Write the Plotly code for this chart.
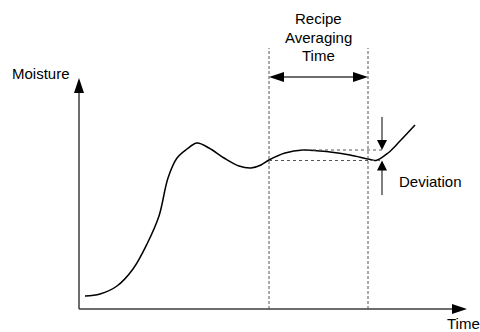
import plotly.graph_objects as go

# Moisture response over time (schematic units)
time_pts = [6, 21, 38, 54, 68, 80, 89, 98, 108, 118, 130, 145, 160, 172, 182,
            190, 206, 224, 251, 271, 289, 297, 309, 321, 336]
moisture_pts = [13, 15, 23, 40, 65, 93, 131, 151, 160, 166, 161, 151, 143, 141, 144,
                149, 156, 159, 157, 154, 150, 148.5, 156, 168, 184]

# Averaging window and deviation levels
window_start, window_end = 190, 289
window_top = 261
span_arrow_level = 232
upper_level, lower_level = 159, 148.5
upper_level_start = 222
deviation_x = 303
axis_x_end, axis_y_end = 388, 231

AXIS_COLOR = "#3c3c3c"
GUIDE_COLOR = "#555555"
FONT = dict(family="Liberation Sans, Arial, sans-serif", size=15, color="#000000")


def head(tip_x, tip_y, dx, dy, length, half_width):
    """Filled triangular arrowhead pointing along (dx, dy)."""
    bx, by = tip_x - dx * length, tip_y - dy * length
    px, py = -dy * half_width, dx * half_width
    return dict(type="path", layer="above", line=dict(width=0), fillcolor="#000000",
                path=f"M {tip_x},{tip_y} L {bx + px},{by + py} L {bx - px},{by - py} Z")


def seg(x0, y0, x1, y1, color, width, dash="solid"):
    return dict(type="line", x0=x0, y0=y0, x1=x1, y1=y1, layer="above",
                line=dict(color=color, width=width, dash=dash))


fig = go.Figure()
fig.add_trace(go.Scatter(x=time_pts, y=moisture_pts, mode="lines",
                         line=dict(color="#000000", width=1.5, shape="spline", smoothing=1.0),
                         hoverinfo="skip"))

shapes = [
    # axes
    seg(0, 0, axis_x_end - 14, 0, AXIS_COLOR, 1.5),
    seg(0, 0, 0, axis_y_end - 14, AXIS_COLOR, 1.5),
    head(axis_x_end, 0, 1, 0, 15, 5),
    head(0, axis_y_end, 0, 1, 15, 5),
    # averaging window boundaries
    seg(window_start, 0, window_start, window_top, GUIDE_COLOR, 1, "3px,2px"),
    seg(window_end, 0, window_end, window_top, GUIDE_COLOR, 1, "3px,2px"),
    # window span arrow
    seg(window_start + 14, span_arrow_level, window_end - 14, span_arrow_level, AXIS_COLOR, 1.5),
    head(window_start, span_arrow_level, -1, 0, 15, 5),
    head(window_end, span_arrow_level, 1, 0, 15, 5),
    # deviation reference levels
    seg(upper_level_start, upper_level, deviation_x, upper_level, GUIDE_COLOR, 1, "dot"),
    seg(window_start, lower_level, deviation_x, lower_level, GUIDE_COLOR, 1, "dot"),
    # deviation arrows
    seg(deviation_x, 192, deviation_x, upper_level + 9, GUIDE_COLOR, 1.5),
    head(deviation_x, upper_level, 0, -1, 10, 5),
    seg(deviation_x, 114, deviation_x, lower_level - 9, GUIDE_COLOR, 1.5),
    head(deviation_x, lower_level, 0, 1, 10, 5),
]

annotations = [
    dict(x=-7, y=236, text="Moisture", xanchor="right", yanchor="middle"),
    dict(x=366, y=-14, text="Time", xanchor="left", yanchor="middle"),
    dict(x=318, y=128, text="Deviation", xanchor="left", yanchor="middle"),
    dict(x=(window_start + window_end) / 2, y=291, text="Recipe", xanchor="center", yanchor="middle"),
    dict(x=(window_start + window_end) / 2, y=272, text="Averaging", xanchor="center", yanchor="middle"),
    dict(x=(window_start + window_end) / 2, y=254, text="Time", xanchor="center", yanchor="middle"),
]
for a in annotations:
    a.update(showarrow=False, font=FONT, xref="x", yref="y")

fig.update_layout(
    width=480, height=332,
    margin=dict(l=0, r=0, t=0, b=0),
    paper_bgcolor="white", plot_bgcolor="white",
    showlegend=False,
    xaxis=dict(range=[-79, 401], visible=False, fixedrange=True),
    yaxis=dict(range=[-23, 309], visible=False, fixedrange=True),
    shapes=shapes,
    annotations=annotations,
)

fig.write_html("out.html")
